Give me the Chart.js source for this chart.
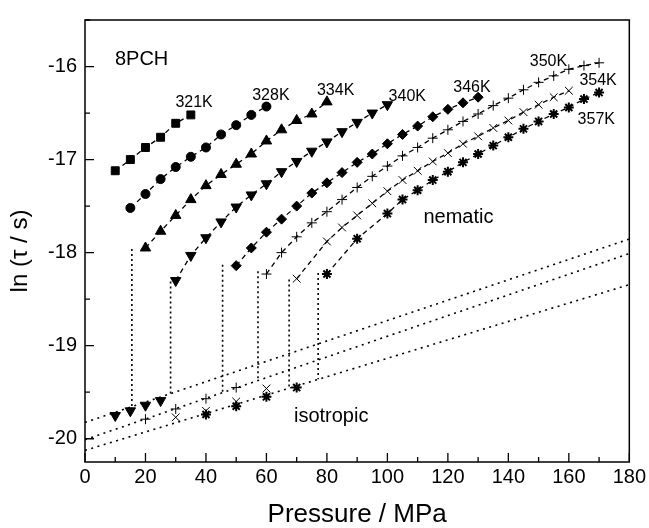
<!DOCTYPE html>
<html>
<head>
<meta charset="utf-8">
<script src="https://cdn.jsdelivr.net/npm/chart.js@4/dist/chart.umd.min.js"></script>
<style>
  html, body { margin: 0; padding: 0; background: #fff; }
  #wrap { width: 649px; height: 528px; }
</style>
</head>
<body>
<div id="wrap"><canvas id="c" width="649" height="528"></canvas></div>
<script>
// 8PCH: ln(tau/s) vs pressure, nematic branches (dashed) + isotropic points (dotted fits).

// nematic series
const p321 = [10, 15, 20, 25, 30, 35];
const t321 = [-17.12, -17.00, -16.87, -16.76, -16.61, -16.52];
const p328 = [15, 20, 25, 30, 35, 40, 45, 50, 55, 60];
const t328 = [-17.52, -17.37, -17.21, -17.08, -16.97, -16.87, -16.73, -16.63, -16.52, -16.43];
const p334 = [20, 25, 30, 35, 40, 45, 50, 55, 60, 65, 70, 75, 80];
const t334 = [-17.95, -17.77, -17.60, -17.43, -17.28, -17.16, -17.05, -16.94, -16.80, -16.68, -16.58, -16.51, -16.38];
const p340 = [30, 35, 40, 45, 50, 55, 60, 65, 70, 75, 80, 85, 90, 95, 100];
const t340 = [-18.30, -18.03, -17.84, -17.67, -17.51, -17.38, -17.26, -17.13, -17.02, -16.91, -16.81, -16.70, -16.60, -16.50, -16.41];
const p346 = [50, 55, 60, 65, 70, 75, 80, 85, 90, 95, 100, 105, 110, 115, 120, 125, 130];
const t346 = [-18.14, -17.95, -17.78, -17.64, -17.50, -17.36, -17.25, -17.14, -17.03, -16.94, -16.83, -16.73, -16.64, -16.54, -16.46, -16.39, -16.33];
const p350 = [60, 65, 70, 75, 80, 85, 90, 95, 100, 105, 110, 115, 120, 125, 130, 135, 140, 145, 150, 155, 160, 165, 170];
const t350 = [-18.23, -18.00, -17.83, -17.68, -17.56, -17.43, -17.30, -17.18, -17.07, -16.96, -16.87, -16.77, -16.68, -16.59, -16.51, -16.42, -16.34, -16.25, -16.17, -16.10, -16.03, -15.99, -15.96];
const p354 = [70, 80, 85, 90, 95, 100, 105, 110, 115, 120, 125, 130, 135, 140, 145, 150, 155, 160];
const t354 = [-18.28, -17.88, -17.73, -17.60, -17.47, -17.34, -17.22, -17.12, -17.02, -16.93, -16.83, -16.75, -16.66, -16.58, -16.49, -16.41, -16.33, -16.26];
const p357 = [80, 90, 100, 105, 110, 115, 120, 125, 130, 135, 140, 145, 150, 155, 160, 165, 170];
const t357 = [-18.23, -17.85, -17.58, -17.43, -17.33, -17.22, -17.13, -17.03, -16.94, -16.85, -16.76, -16.67, -16.59, -16.51, -16.44, -16.35, -16.28];

// isotropic points
const pIsoDown = [10, 15, 20, 25];
const tIsoDown = [-19.75, -19.70, -19.64, -19.59];
const pIsoPlus = [20, 30, 40, 50];
const tIsoPlus = [-19.79, -19.68, -19.57, -19.45];
const pIsoX = [30, 40, 50, 60];
const tIsoX = [-19.77, -19.70, -19.60, -19.46];
const pIsoStar = [40, 50, 60, 70];
const tIsoStar = [-19.74, -19.65, -19.55, -19.45];

// dotted isotropic fits (ends at 0 and 180 MPa)
const fitP = [0, 180];
const fitUpper = [-19.825, -17.854];
const fitMiddle = [-20.01, -18.01];
const fitLower = [-20.125, -18.344];

// dotted transition drops
const dropP = [15.5, 28.3, 45.5, 57.2, 67.5, 77.1];
const dropTop = [-17.96, -18.31, -18.13, -18.20, -18.29, -18.22];
const dropBottom = [-19.66, -19.52, -19.50, -19.37, -19.46, -19.36];

const xTicks = [0, 20, 40, 60, 80, 100, 120, 140, 160, 180];
const xMinor = [10, 30, 50, 70, 90, 110, 130, 150, 170];
const yTicks = [-20, -19, -18, -17, -16];
const yMinor = [-19.5, -18.5, -17.5, -16.5, -15.5];

const labels = [
  { text: '8PCH', p: 9.9, t: -15.92, size: 20 },
  { text: '321K', p: 29.9, t: -16.39, size: 16 },
  { text: '328K', p: 55.3, t: -16.31, size: 16 },
  { text: '334K', p: 76.7, t: -16.26, size: 16 },
  { text: '340K', p: 100.4, t: -16.32, size: 16 },
  { text: '346K', p: 121.8, t: -16.23, size: 16 },
  { text: '350K', p: 147.1, t: -15.95, size: 16 },
  { text: '354K', p: 163.5, t: -16.15, size: 16 },
  { text: '357K', p: 162.9, t: -16.57, size: 16 },
  { text: 'nematic', p: 111.9, t: -17.62, size: 20 },
  { text: 'isotropic', p: 69.1, t: -19.76, size: 20 },
];

const FONT = "'Liberation Sans', Arial, sans-serif";
const pts = (ps, ts) => ps.map((p, i) => ({ x: p, y: ts[i] }));

function nematic(ps, ts, style, radius, extra) {
  return {
    data: pts(ps, ts),
    showLine: true,
    borderColor: '#000',
    backgroundColor: '#000',
    borderWidth: 1.3,
    borderDash: [5, 4],
    pointStyle: style,
    pointRadius: radius,
    pointBorderWidth: 1,
    ...(extra || {}),
  };
}
function iso(ps, ts, style, radius, extra) {
  return {
    data: pts(ps, ts),
    showLine: false,
    borderColor: '#000',
    backgroundColor: '#000',
    pointStyle: style,
    pointRadius: radius,
    pointBorderWidth: 1,
    ...(extra || {}),
  };
}
function dotted(data, dash) {
  return {
    data,
    showLine: true,
    borderColor: '#000',
    borderWidth: 1.6,
    borderDash: dash,
    pointRadius: 0,
  };
}

const datasets = [
  dotted(pts(fitP, fitUpper), [2, 4.5]),
  dotted(pts(fitP, fitMiddle), [2, 4.5]),
  dotted(pts(fitP, fitLower), [2, 4.5]),
  ...dropP.map((p, i) => dotted([{ x: p, y: dropTop[i] }, { x: p, y: dropBottom[i] }], [2, 3])),
  nematic(p321, t321, 'rect', 5.6),
  nematic(p328, t328, 'circle', 4.5),
  nematic(p334, t334, 'triangle', 6),
  nematic(p340, t340, 'triangle', 6, { pointRotation: 180 }),
  nematic(p346, t346, 'rectRot', 5),
  nematic(p350, t350, 'cross', 5),
  nematic(p354, t354, 'crossRot', 5.5),
  nematic(p357, t357, 'star', 5, { pointBorderWidth: 2 }),
  iso(pIsoDown, tIsoDown, 'triangle', 6, { pointRotation: 180 }),
  iso(pIsoPlus, tIsoPlus, 'cross', 5),
  iso(pIsoX, tIsoX, 'crossRot', 5.5),
  iso(pIsoStar, tIsoStar, 'star', 5, { pointBorderWidth: 2 }),
];

// frame, inward ticks, free text
const decor = {
  id: 'decor',
  afterDraw(chart) {
    const { ctx, chartArea: a, scales: { x, y } } = chart;
    ctx.save();
    ctx.strokeStyle = '#000';
    ctx.lineWidth = 1.5;
    ctx.strokeRect(a.left, a.top, a.right - a.left, a.bottom - a.top);
    ctx.lineWidth = 1.3;
    ctx.beginPath();
    xTicks.forEach(v => { const px = x.getPixelForValue(v); ctx.moveTo(px, a.bottom); ctx.lineTo(px, a.bottom - 9); });
    xMinor.forEach(v => { const px = x.getPixelForValue(v); ctx.moveTo(px, a.bottom); ctx.lineTo(px, a.bottom - 5); });
    yTicks.forEach(v => { const py = y.getPixelForValue(v); ctx.moveTo(a.left, py); ctx.lineTo(a.left + 9, py); });
    yMinor.forEach(v => { const py = y.getPixelForValue(v); ctx.moveTo(a.left, py); ctx.lineTo(a.left + 5, py); });
    ctx.stroke();

    ctx.fillStyle = '#000';
    ctx.textBaseline = 'middle';
    ctx.textAlign = 'left';
    labels.forEach(l => {
      ctx.font = l.size + 'px ' + FONT;
      ctx.fillText(l.text, x.getPixelForValue(l.p), y.getPixelForValue(l.t));
    });

    // y axis title
    ctx.font = '24px ' + FONT;
    ctx.textAlign = 'center';
    ctx.translate(20, 251);
    ctx.rotate(-Math.PI / 2);
    ctx.fillText('ln (\u03C4 / s)', 0, 0);
    ctx.restore();
  },
};

new Chart(document.getElementById('c'), {
  type: 'scatter',
  data: { datasets },
  plugins: [decor],
  options: {
    responsive: false,
    animation: false,
    devicePixelRatio: 1,
    layout: { padding: { top: 10, right: 17, left: 0, bottom: 0 } },
    plugins: { legend: { display: false }, tooltip: { enabled: false } },
    scales: {
      x: {
        type: 'linear', min: 0, max: 180,
        afterBuildTicks: s => { s.ticks = xTicks.map(v => ({ value: v })); },
        afterFit: s => { s.height = 66; },
        grid: { display: false, drawTicks: false },
        border: { display: false },
        ticks: { color: '#000', padding: 3, maxRotation: 0, font: { family: FONT, size: 20 } },
        title: { display: true, text: 'Pressure / MPa', color: '#000', padding: { top: 0, bottom: 0 }, font: { family: FONT, size: 26, lineHeight: 1 } },
      },
      y: {
        type: 'linear', min: -20.25, max: -15.5,
        afterBuildTicks: s => { s.ticks = yTicks.map(v => ({ value: v })); },
        afterFit: s => { s.width = 85; },
        grid: { display: false, drawTicks: false },
        border: { display: false },
        ticks: { color: '#000', padding: 8, font: { family: FONT, size: 20 } },
      },
    },
  },
});
</script>
</body>
</html>
